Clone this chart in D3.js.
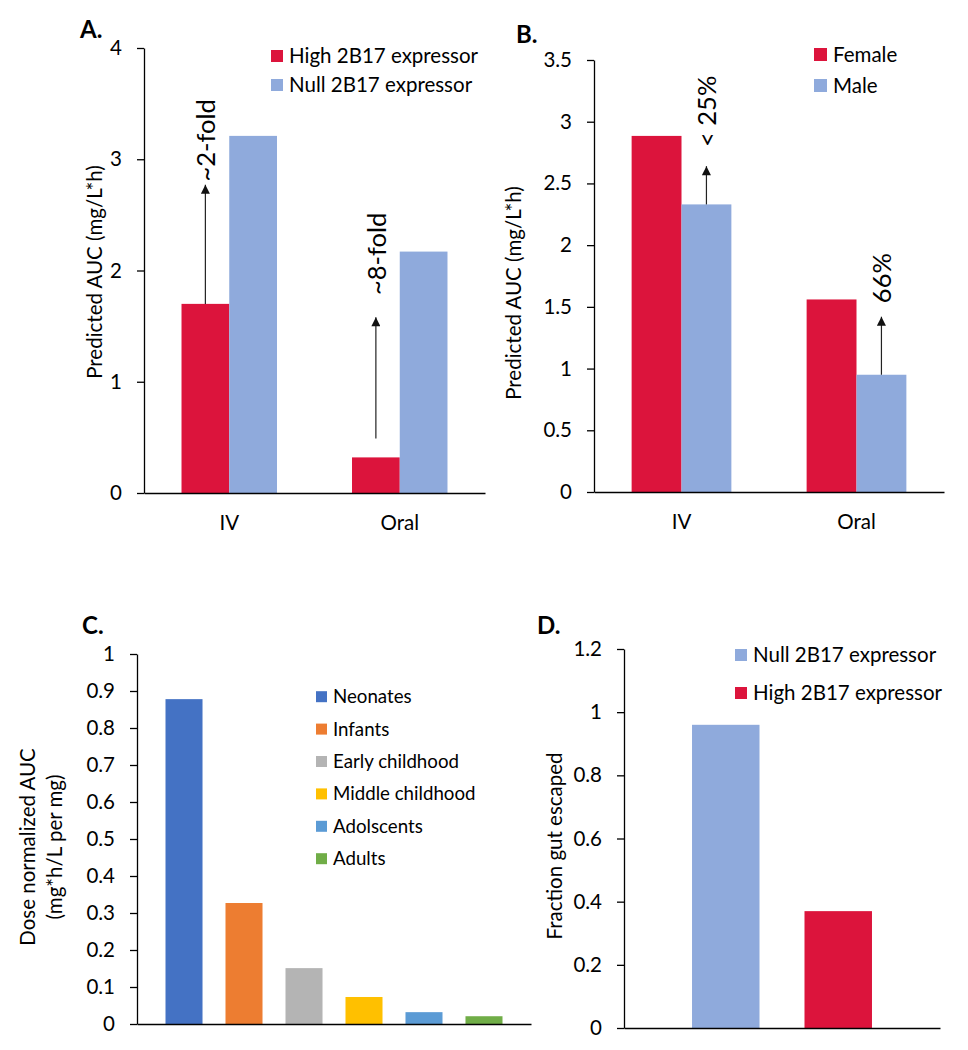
<!DOCTYPE html>
<html>
<head>
<meta charset="utf-8">
<title>Predicted AUC panels</title>
<script src="https://cdn.jsdelivr.net/npm/d3@7"></script>
<style>
body { margin: 0; background: #fff; }
svg text { font-family: Lato, "Open Sans", sans-serif; fill: #000; }
.axis path, .axis line { stroke: #000; stroke-width: 1.3px; }
.axis text { font-size: 20.5px; font-family: Lato, sans-serif; }
.plabel { font-size: 24px; font-weight: bold; }
.ylab { font-size: 20.5px; }
.legend text { font-size: 20.5px; }
.legendC text { font-size: 18.7px; }
.note { font-size: 25.5px; }
.arrow { stroke: #222; stroke-width: 1.2px; }
</style>
</head>
<body>
<script>

// panel A
var catsA = ["IV", "Oral"];
var seriesA = ["High 2B17 expressor", "Null 2B17 expressor"];
var highA = [1.70, 0.32];
var nullA = [3.21, 2.17];
var ticksA = [0, 1, 2, 3, 4];
var arrowFromA = [1.70, 0.49];
var arrowToA = [2.77, 1.58];
var noteAtA = [2.80, 1.78];
var notesA = ["~2-fold", "~8-fold"];

// panel B
var catsB = ["IV", "Oral"];
var seriesB = ["Female", "Male"];
var femaleB = [2.885, 1.56];
var maleB = [2.33, 0.95];
var ticksB = [0, 0.5, 1, 1.5, 2, 2.5, 3, 3.5];
var arrowFromB = [2.33, 0.95];
var arrowToB = [2.64, 1.42];
var noteAtB = [2.795, 1.53];
var notesB = ["< 25%", "66%"];

// panel C
var groupsC = ["Neonates", "Infants", "Early childhood", "Middle childhood", "Adolscents", "Adults"];
var aucC = [0.878, 0.327, 0.151, 0.073, 0.032, 0.021];
var ticksC = [0, 0.1, 0.2, 0.3, 0.4, 0.5, 0.6, 0.7, 0.8, 0.9, 1];

// panel D
var seriesD = ["Null 2B17 expressor", "High 2B17 expressor"];
var fractionD = [0.96, 0.37];
var ticksD = [0, 0.2, 0.4, 0.6, 0.8, 1, 1.2];

var red = "#DC143C", blue = "#8FAADC";
var colorsC = ["#4472C4", "#ED7D31", "#B4B4B4", "#FFC000", "#5B9BD5", "#70AD47"];

var svg = d3.select("body").append("svg")
    .attr("width", 968)
    .attr("height", 1050);

svg.append("defs").append("marker")
    .attr("id", "head")
    .attr("viewBox", "0 0 10 10")
    .attr("refX", 10).attr("refY", 5)
    .attr("markerUnits", "userSpaceOnUse")
    .attr("markerWidth", 11).attr("markerHeight", 9)
    .attr("orient", "auto")
  .append("path")
    .attr("d", "M0,0L10,5L0,10Z")
    .attr("fill", "#111");

function yAxis(x0, y, ticks) {
    svg.append("g")
        .attr("class", "axis")
        .attr("transform", "translate(" + x0 + ",0)")
        .call(d3.axisLeft(y).tickValues(ticks).tickSize(7).tickSizeOuter(0).tickPadding(15)
            .tickFormat(d3.format("~g")));
}

function xAxis(y0, x, labels) {
    var ax = d3.axisBottom(x).tickSize(0).tickSizeOuter(0).tickPadding(22);
    if (!labels) ax.tickFormat("");
    var g = svg.append("g")
        .attr("class", "axis")
        .attr("transform", "translate(0," + y0 + ")")
        .call(ax);
    g.selectAll(".tick line").remove();
}

function yLabel(x, y, txt) {
    svg.append("text")
        .attr("class", "ylab")
        .attr("text-anchor", "middle")
        .attr("transform", "translate(" + x + "," + y + ") rotate(-90)")
        .text(txt);
}

function legend(cls, x, y0, step, size, names, colors) {
    var g = svg.append("g").attr("class", cls);
    var row = g.selectAll("g").data(names).enter().append("g")
        .attr("transform", function(d, i) { return "translate(" + x + "," + (y0 + i * step) + ")"; });
    row.append("rect")
        .attr("x", 0).attr("y", -size / 2)
        .attr("width", size).attr("height", size)
        .attr("fill", function(d, i) { return colors[i]; });
    row.append("text")
        .attr("x", size + 6)
        .attr("dy", "0.35em")
        .text(function(d) { return d; });
}

function arrows(xs, y, from, to, at, notes) {
    xs.forEach(function(x, i) {
        svg.append("line")
            .attr("class", "arrow")
            .attr("x1", x).attr("x2", x)
            .attr("y1", y(from[i])).attr("y2", y(to[i]))
            .attr("marker-end", "url(#head)");
        svg.append("text")
            .attr("class", "note")
            .attr("transform", "translate(" + (x + 10) + "," + y(at[i]) + ") rotate(-90)")
            .text(notes[i]);
    });
}

function panelLabel(x, y, txt) {
    svg.append("text").attr("class", "plabel").attr("x", x).attr("y", y).text(txt);
}

// ---------- A ----------
var yA = d3.scaleLinear().domain([0, 4]).range([493, 48]);
var x0A = d3.scaleBand().domain(catsA).range([144, 485]).paddingInner(0.44).paddingOuter(0.22);
var x1A = d3.scaleBand().domain(seriesA).range([0, x0A.bandwidth()]);
var rowsA = catsA.map(function(c, i) { return { cat: c, vals: [highA[i], nullA[i]] }; });

svg.append("g").selectAll("g").data(rowsA).enter().append("g")
    .attr("transform", function(d) { return "translate(" + x0A(d.cat) + ",0)"; })
  .selectAll("rect").data(function(d) { return d.vals; }).enter().append("rect")
    .attr("x", function(d, j) { return x1A(seriesA[j]); })
    .attr("width", x1A.bandwidth())
    .attr("y", function(d) { return yA(d); })
    .attr("height", function(d) { return yA(0) - yA(d); })
    .attr("fill", function(d, j) { return j === 0 ? red : blue; });

yAxis(144, yA, ticksA);
xAxis(493, x0A, true);
yLabel(102, 272, "Predicted AUC (mg/L*h)");
legend("legend", 271, 56, 29, 12, seriesA, [red, blue]);
arrows(catsA.map(function(c) { return x0A(c) + x1A(seriesA[0]) + x1A.bandwidth() / 2; }),
    yA, arrowFromA, arrowToA, noteAtA, notesA);
panelLabel(80, 38, "A.");

// ---------- B ----------
var yB = d3.scaleLinear().domain([0, 3.5]).range([492, 60]);
var x0B = d3.scaleBand().domain(catsB).range([594, 944]).paddingInner(0.43).paddingOuter(0.215);
var x1B = d3.scaleBand().domain(seriesB).range([0, x0B.bandwidth()]);
var rowsB = catsB.map(function(c, i) { return { cat: c, vals: [femaleB[i], maleB[i]] }; });

svg.append("g").selectAll("g").data(rowsB).enter().append("g")
    .attr("transform", function(d) { return "translate(" + x0B(d.cat) + ",0)"; })
  .selectAll("rect").data(function(d) { return d.vals; }).enter().append("rect")
    .attr("x", function(d, j) { return x1B(seriesB[j]); })
    .attr("width", x1B.bandwidth())
    .attr("y", function(d) { return yB(d); })
    .attr("height", function(d) { return yB(0) - yB(d); })
    .attr("fill", function(d, j) { return j === 0 ? red : blue; });

yAxis(594, yB, ticksB);
xAxis(492, x0B, true);
yLabel(521, 293, "Predicted AUC (mg/L*h)");
legend("legend", 814, 54.5, 31, 13, seriesB, [red, blue]);
arrows(catsB.map(function(c) { return x0B(c) + x1B(seriesB[1]) + x1B.bandwidth() / 2; }),
    yB, arrowFromB, arrowToB, noteAtB, notesB);
panelLabel(516, 43, "B.");

// ---------- C ----------
var yC = d3.scaleLinear().domain([0, 1]).range([1024, 654]);
var xC = d3.scaleBand().domain(groupsC).range([137, 531]).paddingInner(0.383).paddingOuter(0.475);

svg.append("g").selectAll("rect").data(aucC).enter().append("rect")
    .attr("x", function(d, i) { return xC(groupsC[i]); })
    .attr("width", xC.bandwidth())
    .attr("y", function(d) { return yC(d); })
    .attr("height", function(d) { return yC(0) - yC(d); })
    .attr("fill", function(d, i) { return colorsC[i]; });

yAxis(137, yC, ticksC);
xAxis(1024, xC, false);
yLabel(35, 847, "Dose normalized AUC");
yLabel(62, 847, "(mg*h/L per mg)");
legend("legendC", 316, 696.7, 32.4, 11, groupsC, colorsC);
panelLabel(82, 634, "C.");

// ---------- D ----------
var yD = d3.scaleLinear().domain([0, 1.2]).range([1028, 649]);
var x0D = d3.scaleBand().domain(["Oral"]).range([624, 940]).paddingOuter(0.378);
var x1D = d3.scaleBand().domain(seriesD).range([0, x0D.bandwidth()]).paddingInner(0.4);

svg.append("g").selectAll("rect").data(fractionD).enter().append("rect")
    .attr("x", function(d, i) { return x0D("Oral") + x1D(seriesD[i]); })
    .attr("width", x1D.bandwidth())
    .attr("y", function(d) { return yD(d); })
    .attr("height", function(d) { return yD(0) - yD(d); })
    .attr("fill", function(d, i) { return i === 0 ? blue : red; });

yAxis(624, yD, ticksD);
xAxis(1028, x0D, false);
yLabel(562, 846, "Fraction gut escaped");
legend("legend", 735, 655, 38, 12, seriesD, [blue, red]);
panelLabel(537, 634, "D.");

</script>
</body>
</html>
